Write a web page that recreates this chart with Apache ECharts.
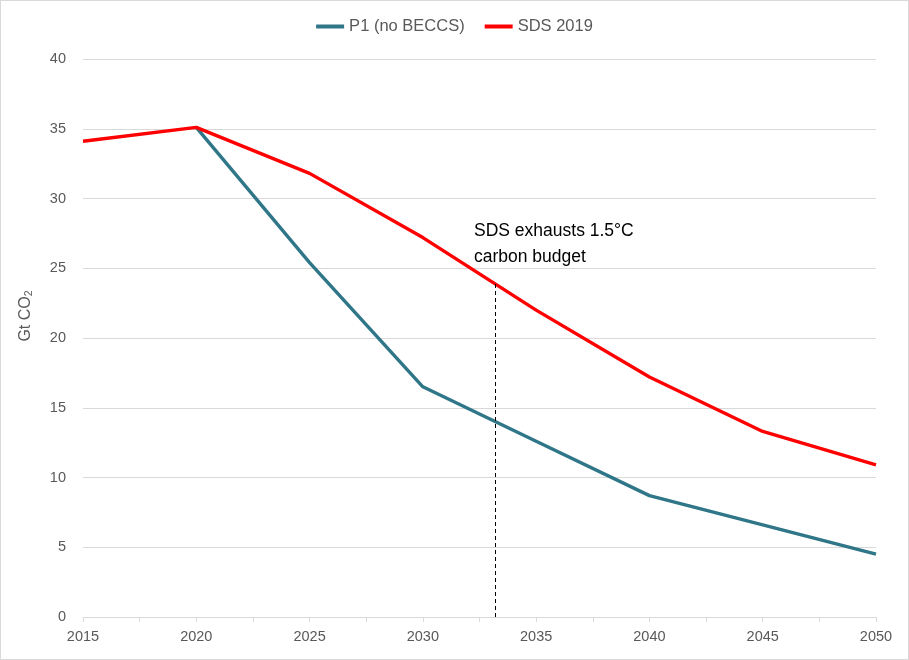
<!DOCTYPE html>
<html>
<head>
<meta charset="utf-8">
<script src="https://cdn.jsdelivr.net/npm/echarts@6/dist/echarts.min.js"></script>
<style>
  html, body { margin: 0; padding: 0; background: #fff; }
  #chart { width: 907px; height: 658px; border: 1px solid #d9d9d9; }
</style>
</head>
<body>
<div id="chart"></div>
<script>
// data
var years = [2015, 2020, 2025, 2030, 2035, 2040, 2045, 2050];
var p1Values = [null, 35.1, 25.4, 16.5, 12.6, 8.7, 6.6, 4.5];
var sdsValues = [34.1, 35.1, 31.8, 27.2, 22.0, 17.2, 13.3, 10.9];
var budgetYear = 2033.2;
var budgetValue = 23.9;
var yTicks = [0, 5, 10, 15, 20, 25, 30, 35, 40];

function pairs(xs, ys) {
    var out = [];
    for (var i = 0; i < xs.length; i++) {
        if (ys[i] !== null) out.push([xs[i], ys[i]]);
    }
    return out;
}

var chart = echarts.init(document.getElementById('chart'));
var font = 'Liberation Sans';

var option = {
    animation: false,
    textStyle: { fontFamily: font },
    legend: {
        top: 12,
        left: 'center',
        itemWidth: 28,
        itemHeight: 4,
        itemGap: 20,
        icon: 'rect',
        textStyle: { color: '#595959', fontSize: 16.5, fontFamily: font },
        data: ['P1 (no BECCS)', 'SDS 2019']
    },
    grid: { left: 82, right: 32, top: 58, bottom: 42 },
    xAxis: {
        type: 'value',
        min: years[0],
        max: years[years.length - 1],
        interval: 5,
        axisLine: { lineStyle: { color: '#d9d9d9' } },
        axisTick: { show: true, length: 5, lineStyle: { color: '#d9d9d9' } },
        minorTick: { show: true, splitNumber: 2, length: 5, lineStyle: { color: '#d9d9d9' } },
        splitLine: { show: false },
        axisLabel: { color: '#595959', fontSize: 14.5, margin: 12, formatter: function (v) { return String(v); } }
    },
    yAxis: {
        type: 'value',
        min: yTicks[0],
        max: yTicks[yTicks.length - 1],
        interval: 5,
        name: '{a|Gt CO}{b|2}',
        nameLocation: 'middle',
        nameGap: 48,
        nameRotate: 90,
        nameTextStyle: {
            padding: [0, 0, 0, 44],
            rich: {
                a: { color: '#595959', fontSize: 16, fontFamily: font },
                b: { color: '#595959', fontSize: 10.5, fontFamily: font, verticalAlign: 'bottom', padding: [7, 0, 0, 0] }
            }
        },
        axisLine: { show: false },
        axisTick: { show: false },
        splitLine: { lineStyle: { color: '#d9d9d9' } },
        axisLabel: { color: '#595959', fontSize: 14.5, margin: 17 }
    },
    series: [
        {
            name: 'P1 (no BECCS)',
            type: 'line',
            data: pairs(years, p1Values),
            symbol: 'none',
            lineStyle: { color: '#2f7688', width: 3.4 },
            itemStyle: { color: '#2f7688' },
            z: 2
        },
        {
            name: 'SDS 2019',
            type: 'line',
            data: pairs(years, sdsValues),
            symbol: 'none',
            lineStyle: { color: '#ff0000', width: 3.4 },
            itemStyle: { color: '#ff0000' },
            z: 3,
            markLine: {
                silent: true,
                symbol: 'none',
                label: { show: false },
                lineStyle: { color: '#000', type: [4, 3], width: 1 },
                data: [[{ coord: [budgetYear, 0] }, { coord: [budgetYear, budgetValue] }]]
            }
        }
    ],
    graphic: [{
        type: 'text',
        left: 473,
        top: 217,
        style: {
            text: 'SDS exhausts 1.5°C\ncarbon budget',
            fill: '#000',
            font: '17.5px ' + font,
            lineHeight: 26
        }
    }]
};

chart.setOption(option);
</script>
</body>
</html>
